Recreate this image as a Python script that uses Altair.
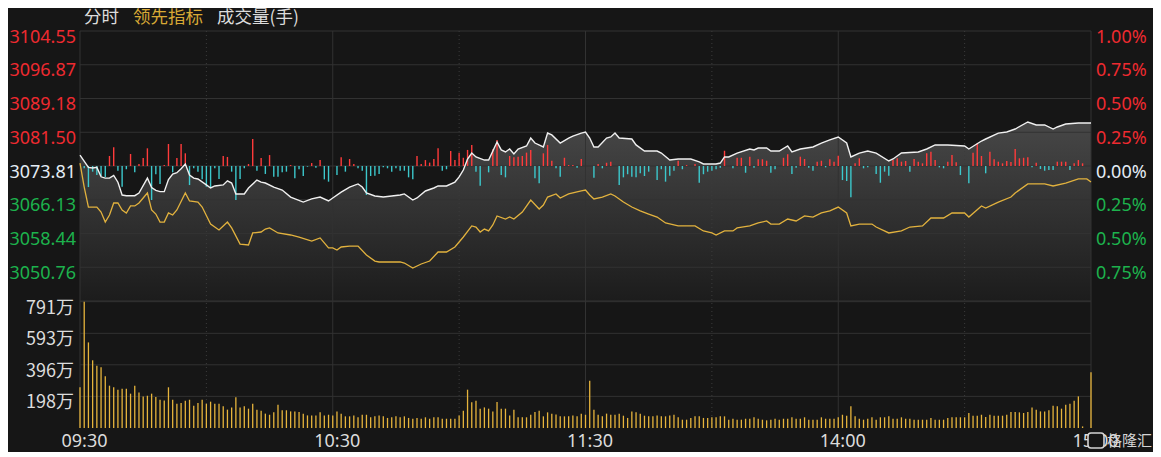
import altair as alt
import pandas as pd

# ---------------- data ----------------
TIME_TICKS = [0, 60, 120, 180, 240]
TIME_LABELS = ["09:30", "10:30", "11:30", "14:00", "15:00"]
SOLID_V = [0, 60, 120, 180, 240]
DOTTED_V = [30, 90, 150, 210]

PCT_TICKS = [1.0, 0.75, 0.5, 0.25, 0.0, -0.25, -0.5, -0.75]
PRICE_LABELS = ["3104.55", "3096.87", "3089.18", "3081.50", "3073.81", "3066.13", "3058.44", "3050.76"]
PCT_LABELS = ["1.00%", "0.75%", "0.50%", "0.25%", "0.00%", "0.25%", "0.50%", "0.75%"]
PRICE_GRID = [1.0, 0.75, 0.5, 0.25, 0.0, -0.25, -0.5, -0.75, -1.0]

VOL_TICKS = [791, 593, 396, 198]
VOL_LABELS = ["791万", "593万", "396万", "198万"]

# 分时 (percent change vs previous close), (minute index, pct)
PRICE = [(0, 0.08), (2, -0.01), (3, -0.015), (4, -0.01), (5, -0.08), (6, -0.09), (7, -0.09), (8, -0.07),
         (9, -0.12), (10, -0.215), (11, -0.22), (13, -0.22), (14, -0.20), (16, -0.09), (17, -0.16),
         (18, -0.18), (19, -0.19), (20, -0.19), (21, -0.10), (22, -0.06), (23, -0.05), (24, -0.02),
         (25, 0.015), (26, -0.067), (27, -0.09), (28, -0.096), (30, -0.14), (31, -0.163), (32, -0.148),
         (34, -0.14), (35, -0.11), (36, -0.126), (37, -0.207), (39, -0.207), (40, -0.163), (42, -0.104),
         (43, -0.119), (44, -0.126), (46, -0.156), (48, -0.178), (50, -0.23), (53, -0.267), (55, -0.244),
         (57, -0.23), (59, -0.259), (60, -0.237), (62, -0.193), (64, -0.156), (66, -0.133), (67, -0.156),
         (68, -0.2), (70, -0.222), (72, -0.23), (76, -0.215), (77, -0.207), (79, -0.252), (80, -0.237),
         (82, -0.185), (84, -0.163), (85, -0.148), (87, -0.148), (89, -0.119), (90, -0.081), (91, -0.03),
         (92, 0.052), (93, 0.096), (94, 0.067), (96, 0.044), (97, 0.044), (99, 0.178), (100, 0.119),
         (101, 0.104), (102, 0.126), (103, 0.089), (104, 0.126), (106, 0.148), (107, 0.207), (108, 0.17),
         (110, 0.141), (111, 0.244), (112, 0.23), (114, 0.17), (116, 0.207), (117, 0.222), (119, 0.244),
         (120, 0.252), (121, 0.207), (122, 0.141), (123, 0.141), (125, 0.207), (126, 0.215), (127, 0.244),
         (128, 0.207), (131, 0.2), (132, 0.156), (134, 0.111), (137, 0.111), (138, 0.096), (140, 0.044),
         (142, 0.052), (144, 0.052), (145, 0.052), (147, 0.03), (148, 0.015), (151, 0.015), (152, 0.022),
         (153, 0.067), (154, 0.067), (156, 0.096), (159, 0.126), (160, 0.119), (161, 0.133), (163, 0.133),
         (164, 0.111), (166, 0.111), (168, 0.148), (169, 0.104), (171, 0.126), (174, 0.141), (176, 0.17),
         (178, 0.193), (180, 0.215), (182, 0.17), (183, 0.067), (185, 0.096), (187, 0.111), (189, 0.096),
         (192, 0.037), (193, 0.052), (195, 0.096), (199, 0.104), (201, 0.126), (203, 0.156), (206, 0.156),
         (210, 0.148), (211, 0.126), (214, 0.185), (215, 0.2), (218, 0.244), (220, 0.252), (222, 0.274),
         (225, 0.326), (227, 0.304), (229, 0.304), (231, 0.274), (232, 0.289), (234, 0.311), (237, 0.319),
         (240, 0.319)]

# 领先指标 (minute index, pct)
LEAD = [(0, 0.022), (1, -0.156), (2, -0.304), (4, -0.304), (5, -0.341), (6, -0.415), (7, -0.363),
        (8, -0.274), (9, -0.274), (10, -0.326), (11, -0.348), (12, -0.296), (13, -0.296), (14, -0.274),
        (16, -0.2), (17, -0.326), (18, -0.356), (19, -0.415), (20, -0.415), (21, -0.348), (22, -0.363),
        (23, -0.326), (25, -0.2), (26, -0.259), (28, -0.267), (29, -0.304), (31, -0.43), (33, -0.474),
        (34, -0.444), (35, -0.415), (36, -0.459), (38, -0.578), (40, -0.585), (41, -0.496), (43, -0.489),
        (44, -0.467), (45, -0.459), (47, -0.496), (50, -0.511), (52, -0.526), (55, -0.556), (57, -0.533),
        (59, -0.607), (60, -0.607), (61, -0.622), (62, -0.6), (64, -0.593), (66, -0.593), (68, -0.659),
        (70, -0.704), (71, -0.711), (74, -0.711), (76, -0.711), (77, -0.719), (79, -0.756), (81, -0.726),
        (83, -0.704), (85, -0.637), (87, -0.637), (89, -0.6), (91, -0.526), (93, -0.444), (94, -0.452),
        (95, -0.489), (96, -0.467), (97, -0.481), (98, -0.437), (99, -0.37), (101, -0.393), (102, -0.378),
        (103, -0.393), (105, -0.341), (107, -0.252), (109, -0.319), (110, -0.289), (111, -0.23),
        (113, -0.207), (114, -0.237), (116, -0.207), (119, -0.185), (120, -0.178), (121, -0.215),
        (122, -0.244), (124, -0.23), (126, -0.207), (127, -0.222), (129, -0.267), (131, -0.304),
        (133, -0.333), (135, -0.356), (137, -0.378), (139, -0.422), (142, -0.444), (144, -0.444),
        (146, -0.444), (148, -0.481), (150, -0.496), (151, -0.511), (153, -0.481), (155, -0.481),
        (156, -0.459), (159, -0.444), (161, -0.422), (163, -0.407), (164, -0.43), (166, -0.43),
        (168, -0.393), (170, -0.407), (172, -0.37), (174, -0.378), (176, -0.348), (178, -0.333),
        (180, -0.304), (182, -0.348), (183, -0.444), (185, -0.43), (188, -0.43), (189, -0.452),
        (192, -0.496), (195, -0.481), (197, -0.452), (200, -0.444), (202, -0.385), (205, -0.385),
        (207, -0.348), (210, -0.348), (211, -0.378), (214, -0.296), (215, -0.311), (218, -0.267),
        (221, -0.23), (222, -0.2), (225, -0.133), (229, -0.133), (231, -0.148), (234, -0.126),
        (237, -0.096), (239, -0.096), (240, -0.119)]

# buy / sell strength bars around the zero line (minute index, value in pct units)
STRENGTH = [(7, 0.074), (8, 0.139), (12, 0.089), (14, 0.015), (15, 0.059), (16, 0.131), (20, 0.007),
            (21, 0.163), (23, 0.059), (24, 0.163), (25, 0.094), (34, 0.074), (35, 0.067), (40, 0.015),
            (41, 0.2), (43, 0.059), (45, 0.081), (50, 0.007), (55, 0.022), (57, 0.044), (62, 0.064),
            (64, 0.052), (65, 0.015), (80, 0.074), (81, 0.015), (82, 0.044), (83, 0.025), (84, 0.052),
            (85, 0.131), (88, 0.111), (89, 0.044), (90, 0.099), (91, 0.061), (92, 0.119), (93, 0.156),
            (98, 0.124), (99, 0.193), (102, 0.074), (103, 0.064), (104, 0.069), (105, 0.074), (106, 0.099),
            (107, 0.119), (110, 0.094), (111, 0.156), (112, 0.039), (115, 0.061), (116, 0.007), (117, 0.007),
            (119, 0.052), (123, 0.015), (125, 0.024), (126, 0.032), (142, 0.039), (144, 0.007), (146, 0.015),
            (153, 0.113), (156, 0.061), (157, 0.061), (159, 0.069), (161, 0.05), (162, 0.05), (163, 0.039),
            (167, 0.061), (168, 0.087), (171, 0.069), (172, 0.052), (175, 0.032), (176, 0.039), (178, 0.05),
            (179, 0.032), (180, 0.076), (184, 0.02), (185, 0.057), (193, 0.044), (194, 0.057), (195, 0.032),
            (196, 0.037), (198, 0.052), (199, 0.032), (200, 0.02), (201, 0.094), (202, 0.106), (203, 0.044),
            (206, 0.032), (207, 0.081), (208, 0.027), (212, 0.099), (213, 0.168), (214, 0.074), (216, 0.106),
            (217, 0.05), (218, 0.032), (219, 0.02), (220, 0.037), (221, 0.03), (222, 0.126), (223, 0.057),
            (224, 0.061), (225, 0.064), (227, 0.024), (232, 0.032), (233, 0.032), (234, 0.032), (236, 0.02),
            (237, 0.044), (238, 0.02),
            (1, -0.017), (2, -0.156), (3, -0.042), (4, -0.067), (5, -0.074), (6, -0.081), (9, -0.035),
            (10, -0.153), (11, -0.024), (13, -0.047), (17, -0.252), (18, -0.061), (19, -0.133), (22, -0.047),
            (26, -0.141), (27, -0.017), (28, -0.042), (29, -0.099), (30, -0.153), (31, -0.163), (32, -0.017),
            (33, -0.096), (36, -0.042), (37, -0.252), (38, -0.096), (39, -0.017), (42, -0.035), (44, -0.059),
            (46, -0.079), (47, -0.079), (48, -0.047), (49, -0.042), (51, -0.091), (52, -0.024), (53, -0.074),
            (54, -0.005), (56, -0.013), (58, -0.099), (59, -0.116), (61, -0.067), (63, -0.042), (66, -0.017),
            (67, -0.035), (68, -0.215), (69, -0.074), (70, -0.072), (71, -0.059), (72, -0.01), (73, -0.017),
            (74, -0.042), (75, -0.017), (76, -0.035), (77, -0.035), (78, -0.084), (79, -0.099), (86, -0.035),
            (87, -0.024), (94, -0.042), (95, -0.146), (97, -0.047), (100, -0.067), (101, -0.084),
            (108, -0.091), (109, -0.128), (113, -0.017), (114, -0.079), (118, -0.013), (122, -0.087),
            (124, -0.017), (128, -0.141), (129, -0.084), (130, -0.061), (131, -0.079), (132, -0.084),
            (133, -0.054), (134, -0.074), (135, -0.042), (137, -0.104), (138, -0.024), (139, -0.116),
            (140, -0.072), (141, -0.035), (143, -0.024), (147, -0.124), (148, -0.061), (149, -0.042),
            (150, -0.035), (151, -0.024), (152, -0.013), (155, -0.017), (158, -0.05), (160, -0.013),
            (164, -0.05), (165, -0.024), (169, -0.059), (170, -0.013), (173, -0.013), (174, -0.035),
            (177, -0.01), (181, -0.104), (182, -0.111), (183, -0.232), (186, -0.017), (187, -0.01),
            (189, -0.059), (190, -0.124), (191, -0.042), (192, -0.072), (197, -0.042), (204, -0.01),
            (205, -0.017), (209, -0.067), (211, -0.128), (215, -0.054), (226, -0.01), (228, -0.022),
            (229, -0.035), (230, -0.03), (231, -0.03), (235, -0.03)]

# 成交量 (万手), one value per minute 09:30 .. 15:00
VOLUME = [255, 791, 536, 424, 390, 380, 324, 265, 255, 240, 246, 246, 215, 265, 223, 198, 202, 215, 194, 177,
          173, 255, 177, 152, 157, 171, 177, 140, 157, 177, 152, 165, 152, 152, 136, 115, 129, 192, 129, 136,
          121, 152, 115, 108, 90, 83, 98, 146, 111, 111, 104, 104, 100, 90, 79, 79, 79, 98, 79, 83,
          79, 104, 90, 73, 73, 79, 67, 83, 83, 67, 73, 79, 73, 63, 67, 73, 67, 73, 63, 58,
          63, 58, 67, 58, 67, 67, 58, 58, 58, 58, 79, 108, 240, 161, 171, 121, 129, 121, 104, 163,
          121, 121, 79, 115, 67, 67, 67, 83, 100, 108, 73, 98, 90, 85, 73, 73, 73, 79, 73, 90,
          83, 296, 115, 83, 73, 90, 83, 83, 90, 77, 63, 104, 98, 90, 77, 73, 73, 79, 73, 73,
          79, 83, 67, 52, 52, 63, 73, 73, 63, 63, 67, 67, 73, 73, 52, 58, 52, 52, 58, 58,
          67, 58, 52, 48, 52, 58, 52, 58, 58, 67, 58, 58, 67, 52, 52, 52, 67, 58, 58, 58,
          67, 83, 77, 136, 73, 58, 52, 58, 67, 52, 67, 67, 73, 58, 58, 67, 58, 58, 52, 52,
          52, 52, 63, 52, 52, 52, 63, 67, 67, 67, 67, 94, 77, 77, 83, 69, 83, 77, 77, 77,
          83, 100, 100, 98, 94, 100, 129, 115, 104, 104, 111, 140, 136, 121, 146, 152, 171, 198, 10, 0,
          349]

# ---------------- styling ----------------
BG = "#161616"
GRID = "#323232"
RED = "#ff3b3b"
CYAN = "#3cc8cc"
WHITE_LINE = "#f0f0f0"
GOLD = "#e2b23e"
TXT = "#dcdcdc"
NUM = "Noto Sans"
CJK = "Noto Sans CJK SC"
W, H = 1011, 397

X = alt.X("m:Q", scale=alt.Scale(domain=[0, 240], nice=False, zero=False), axis=None)
PY = alt.Scale(domain=[-1, 1], range=[270, 0], nice=False, zero=False)
VY = alt.Scale(domain=[0, 791], range=[397, 270.7], nice=False, zero=False)
SIGN = alt.Scale(domain=["up", "flat", "down"], range=["#ee2a30", "#e4ecf4", "#1db24d"])

price_df = pd.DataFrame(PRICE, columns=["m", "p"])
lead_df = pd.DataFrame(LEAD, columns=["m", "p"])
str_df = pd.DataFrame(STRENGTH, columns=["m", "v"])
vol_df = pd.DataFrame({"m": list(range(len(VOLUME))), "v": VOLUME})
pgrid_df = pd.DataFrame({"p": PRICE_GRID})
vgrid_df = pd.DataFrame({"v": VOL_TICKS})
plab_df = pd.DataFrame({"p": PCT_TICKS, "price": PRICE_LABELS, "pct": PCT_LABELS})
vlab_df = pd.DataFrame({"v": VOL_TICKS, "label": VOL_LABELS})
tlab_df = pd.DataFrame({"m": TIME_TICKS, "label": TIME_LABELS})
solid_df = pd.DataFrame({"m": SOLID_V})
dotted_df = pd.DataFrame({"m": DOTTED_V})

area = alt.Chart(price_df).mark_area(
    color=alt.Gradient(gradient="linear", x1=0, x2=0, y1=0, y2=1,
                       stops=[alt.GradientStop(color="#474747", offset=0),
                              alt.GradientStop(color="#1c1c1c", offset=1)])
).encode(x=X, y=alt.Y("p:Q", scale=PY, axis=None), y2=alt.datum(-1))

pgrid = alt.Chart(pgrid_df).mark_rule(color=GRID, strokeWidth=1).encode(
    y=alt.Y("p:Q", scale=PY, axis=None), x=alt.value(0), x2=alt.value(W))
vgrid = alt.Chart(vgrid_df).mark_rule(color=GRID, strokeWidth=1).encode(
    y=alt.Y("v:Q", scale=VY, axis=None), x=alt.value(0), x2=alt.value(W))
vsolid = alt.Chart(solid_df).mark_rule(color=GRID, strokeWidth=1).encode(
    x=X, y=alt.value(0), y2=alt.value(H))
vdot = alt.Chart(dotted_df).mark_rule(color="#3c3c3c", strokeWidth=1, strokeDash=[1, 3]).encode(
    x=X, y=alt.value(0), y2=alt.value(H))

strength = alt.Chart(str_df).mark_rule(strokeWidth=1.4).encode(
    x=X, y=alt.Y("v:Q", scale=PY, axis=None), y2=alt.datum(0),
    color=alt.condition("datum.v > 0", alt.value(RED), alt.value(CYAN)))

pline = alt.Chart(price_df).mark_line(color=WHITE_LINE, strokeWidth=1.4).encode(
    x=X, y=alt.Y("p:Q", scale=PY, axis=None))
lline = alt.Chart(lead_df).mark_line(color=GOLD, strokeWidth=1.3).encode(
    x=X, y=alt.Y("p:Q", scale=PY, axis=None))

vbars = alt.Chart(vol_df).mark_rule(color="#e6b43c", strokeWidth=1.3).encode(
    x=X, y=alt.Y("v:Q", scale=VY, axis=None), y2=alt.datum(0))

sign_calc = "datum.p > 0 ? 'up' : (datum.p < 0 ? 'down' : 'flat')"
left_lab = alt.Chart(plab_df).transform_calculate(sign=sign_calc).mark_text(
    align="right", baseline="middle", dy=6.5, fontSize=18, font=NUM).encode(
    x=alt.value(-4), y=alt.Y("p:Q", scale=PY, axis=None), text="price:N",
    color=alt.Color("sign:N", scale=SIGN, legend=None))
right_lab = alt.Chart(plab_df).transform_calculate(sign=sign_calc).mark_text(
    align="left", baseline="middle", dy=6.5, fontSize=18, font=NUM).encode(
    x=alt.value(W + 5), y=alt.Y("p:Q", scale=PY, axis=None), text="pct:N",
    color=alt.Color("sign:N", scale=SIGN, legend=None))
vol_lab = alt.Chart(vlab_df).mark_text(
    align="right", baseline="middle", dy=7, fontSize=18, font=CJK, color=TXT).encode(
    x=alt.value(-6), y=alt.Y("v:Q", scale=VY, axis=None), text="label:N")
time_lab = alt.Chart(tlab_df).mark_text(
    align="center", baseline="middle", dx=4.5, fontSize=18, font=NUM, color=TXT).encode(
    x=X, y=alt.value(410.5), text="label:N")


def plain_text(txt, xpos, ypos, col, size):
    return alt.Chart(pd.DataFrame({"t": [txt]})).mark_text(
        align="left", baseline="middle", fontSize=size, font=CJK, color=col).encode(
        x=alt.value(xpos), y=alt.value(ypos), text="t:N")


leg1 = plain_text("分时", 4, -13, TXT, 17.5)
leg2 = plain_text("领先指标", 53, -13, "#d8a935", 17.5)
leg3 = plain_text("成交量(手)", 137, -13, TXT, 17.5)

logo_box = alt.Chart(pd.DataFrame({"t": [""]})).mark_rect(
    fill=BG, stroke="#d4d4d4", strokeWidth=1.6, cornerRadius=3).encode(
    x=alt.value(1008), x2=alt.value(1024), y=alt.value(402), y2=alt.value(417))
logo_txt = plain_text("格隆汇", 1027, 410, "#d4d4d4", 15)

chart = alt.layer(
    area, pgrid, vgrid, vsolid, vdot, strength, lline, pline, vbars,
    left_lab, right_lab, vol_lab, time_lab, leg1, leg2, leg3, logo_box, logo_txt
).resolve_scale(y="independent").properties(
    width=W, height=H,
    autosize=alt.AutoSizeParams(type="none"),
    padding={"left": 72, "top": 23, "right": 62, "bottom": 24},
    background=BG,
).configure_view(stroke=None)

chart.save("out.html", embed_options={"renderer": "svg", "actions": False})
